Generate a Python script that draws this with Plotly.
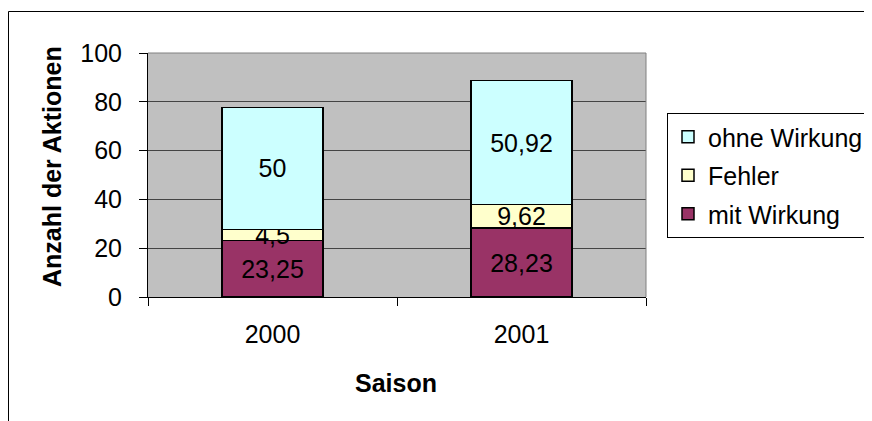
import plotly.graph_objects as go

seasons = ["2000", "2001"]
mit_wirkung = [23.25, 28.23]
fehler = [4.5, 9.62]
ohne_wirkung = [50, 50.92]
y_ticks = [0, 20, 40, 60, 80, 100]

FONT = "Liberation Sans, Arial, sans-serif"
FS = 25

def lbl(vals):
    return [f"{v:g}".replace(".", ",") for v in vals]

series = [
    ("mit Wirkung", mit_wirkung, "#993366", 3),
    ("Fehler", fehler, "#FFFFCC", 2),
    ("ohne Wirkung", ohne_wirkung, "#CCFFFF", 1),
]

fig = go.Figure()
for i, (name, vals, col, rank) in enumerate(series):
    fig.add_trace(go.Bar(
        x=seasons, y=vals, name=name, legendgroup=name, legendrank=rank,
        marker=dict(color=col, line=dict(color="black", width=1.5)),
        text=lbl(vals), textposition="inside", insidetextanchor="middle",
        constraintext="none", cliponaxis=False,
        textfont=dict(family=FONT, size=FS, color="black"),
    ))

# page body has an 8px margin -> shift everything by 8px
OFF = 8
W, H = 872 - OFF, 421 - OFF
L, T = 148 - OFF, 53 - OFF
R = W - (646 - OFF)
B = H - (297 - OFF)
pw, ph = W - L - R, H - T - B

def px(x):
    return (x - OFF - L) / pw

def py(y):
    return (H - B - (y - OFF)) / ph

fig.update_layout(
    width=W, height=H, barmode="stack", bargap=0.595,
    margin=dict(l=L, r=R, t=T, b=B, autoexpand=False),
    paper_bgcolor="white", plot_bgcolor="#C0C0C0",
    font=dict(family=FONT, size=FS, color="black"),
    separators=",.",
    showlegend=True,
    legend=dict(
        x=px(667), y=py(113), xanchor="left", yanchor="top",
        bordercolor="black", borderwidth=1, bgcolor="white",
        traceorder="grouped", tracegroupgap=3,
        font=dict(family=FONT, size=FS, color="black"),
    ),
    xaxis=dict(
        type="category", showline=True, linecolor="black", linewidth=1,
        ticks="outside", tickson="boundaries", ticklen=8, tickcolor="black",
        showgrid=False, ticklabelstandoff=15,
        tickfont=dict(family=FONT, size=FS, color="black"),
    ),
    yaxis=dict(
        range=[0, 100], tickvals=y_ticks, showline=True, linecolor="black",
        linewidth=1, ticks="outside", ticklen=8, tickcolor="black",
        showgrid=True, gridcolor="#444444", gridwidth=1, zeroline=False,
        ticklabelstandoff=12,
        tickfont=dict(family=FONT, size=FS, color="black"),
    ),
    annotations=[
        dict(text="<b>Anzahl der Aktionen</b>", textangle=-90, xref="paper", yref="paper",
             x=px(52), y=py(167), showarrow=False,
             xanchor="center", yanchor="middle", font=dict(family=FONT, size=FS)),
        dict(text="<b>Saison</b>", xref="paper", yref="paper",
             x=px(396), y=py(383), showarrow=False,
             xanchor="center", yanchor="middle", font=dict(family=FONT, size=FS)),
    ],
    shapes=[
        dict(type="line", xref="paper", yref="paper", x0=0, x1=1, y0=1, y1=1,
             line=dict(color="#808080", width=1), layer="above"),
        dict(type="line", xref="paper", yref="paper", x0=1, x1=1, y0=0, y1=1,
             line=dict(color="#808080", width=1), layer="above"),
        dict(type="rect", xref="paper", yref="paper",
             x0=px(8.5), x1=1.6, y0=-1, y1=py(11.5),
             line=dict(color="black", width=1), layer="below"),
    ],
)

fig.write_html("out.html")
